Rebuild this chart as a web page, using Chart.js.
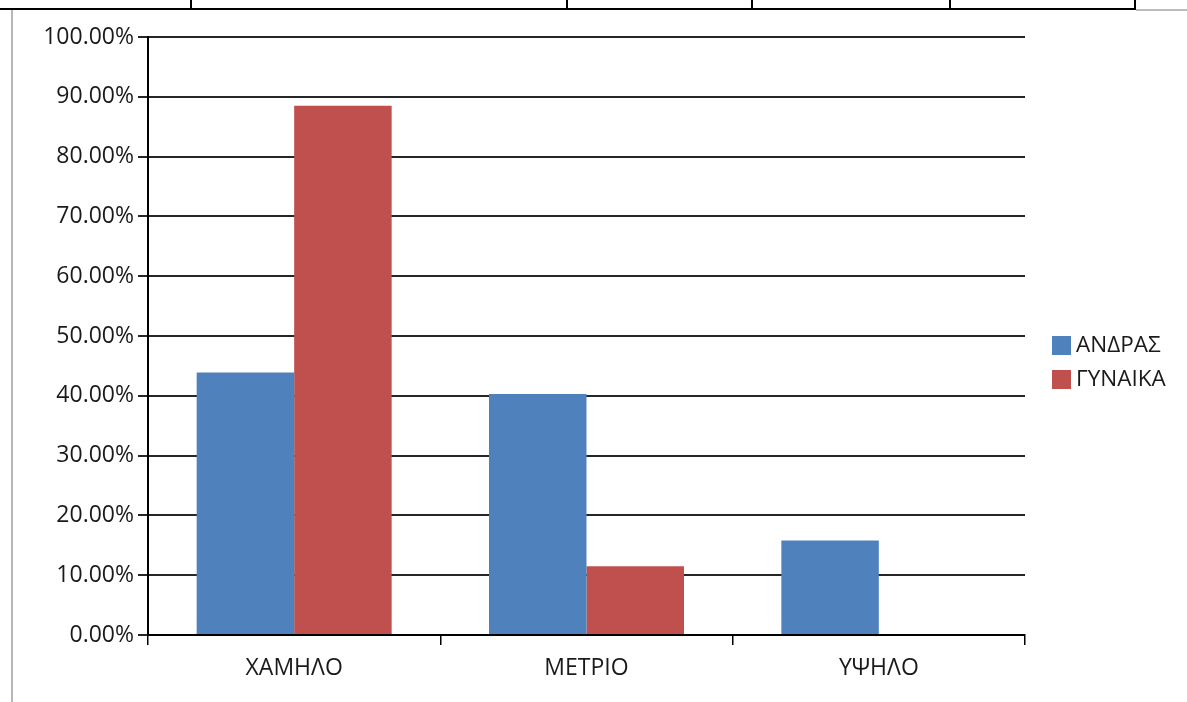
<!DOCTYPE html>
<html>
<head>
<meta charset="utf-8">
<script src="https://cdn.jsdelivr.net/npm/chart.js@4"></script>
<style>
  html, body { margin: 0; padding: 0; background: #fff; }
  #wrap { position: absolute; left: 0; top: 0; width: 1187px; height: 702px; }
  .line { position: absolute; background: #000; z-index: 2; }
  .legend { position: absolute; left: 1052px; font-family: "Open Sans", sans-serif; font-size: 22.5px; color: #1a1a1a; z-index: 2; }
  .legend span.box { display: inline-block; width: 19px; height: 19px; vertical-align: -3px; margin-right: 5px; }
</style>
</head>
<body>
<div id="wrap"><canvas id="myChart" width="1187" height="702"></canvas></div>

<!-- table borders around the chart -->
<div class="line" style="left:0;top:8px;width:1136px;height:2px;"></div>
<div class="line" style="left:1136px;top:9px;width:51px;height:2px;background:#bbb;"></div>
<div class="line" style="left:190px;top:0;width:2px;height:9px;"></div>
<div class="line" style="left:566px;top:0;width:2px;height:9px;"></div>
<div class="line" style="left:751px;top:0;width:2px;height:9px;"></div>
<div class="line" style="left:949px;top:0;width:2px;height:9px;"></div>
<div class="line" style="left:1134px;top:0;width:2px;height:9px;"></div>
<div class="line" style="left:11px;top:10px;width:2px;height:692px;background:#b5b5b5;"></div>

<div class="legend" style="top:328px;"><span class="box" style="background:#4F81BD"></span>ΑΝΔΡΑΣ</div>
<div class="legend" style="top:362px;"><span class="box" style="background:#C0504D"></span>ΓΥΝΑΙΚΑ</div>

<script>
'use strict';

let labels = ['ΧΑΜΗΛΟ', 'ΜΕΤΡΙΟ', 'ΥΨΗΛΟ'];
let men = [43.9, 40.3, 15.8];
let women = [88.5, 11.5, 0];
let seriesNames = ['ΑΝΔΡΑΣ', 'ΓΥΝΑΙΚΑ'];

let font = { family: '"Open Sans", sans-serif', size: 23 };

let ctx = document.getElementById('myChart').getContext('2d');

let myChart = new Chart(ctx, {
    type: 'bar',
    data: {
        labels: labels,
        datasets: [{
            label: seriesNames[0],
            data: men,
            backgroundColor: '#4F81BD',
            borderWidth: 0,
            categoryPercentage: 0.667,
            barPercentage: 1
        }, {
            label: seriesNames[1],
            data: women,
            backgroundColor: '#C0504D',
            borderWidth: 0,
            categoryPercentage: 0.667,
            barPercentage: 1
        }]
    },
    options: {
        responsive: false,
        animation: false,
        layout: { padding: { top: 37, right: 162, bottom: 0, left: 0 } },
        plugins: {
            legend: { display: false },
            tooltip: { enabled: false }
        },
        scales: {
            x: {
                afterFit: function (scale) { scale.height = 67; },
                grid: {
                    offset: true,
                    drawOnChartArea: true,
                    color: function (c) { return c.index === labels.length ? '#d0d0d0' : 'rgba(0,0,0,0)'; },
                    tickColor: '#000',
                    tickLength: 10,
                    lineWidth: 1.5
                },
                border: { color: '#000', width: 2 },
                ticks: { color: '#1a1a1a', font: font, padding: 10 }
            },
            y: {
                min: 0,
                max: 100,
                afterFit: function (scale) { scale.width = 148; },
                grid: { color: '#262626', lineWidth: 2, tickLength: 10 },
                border: { color: '#000', width: 2 },
                ticks: {
                    stepSize: 10,
                    color: '#1a1a1a',
                    font: font,
                    padding: 4,
                    callback: function (v) { return v.toFixed(2) + '%'; }
                }
            }
        }
    }
});
</script>
</body>
</html>
